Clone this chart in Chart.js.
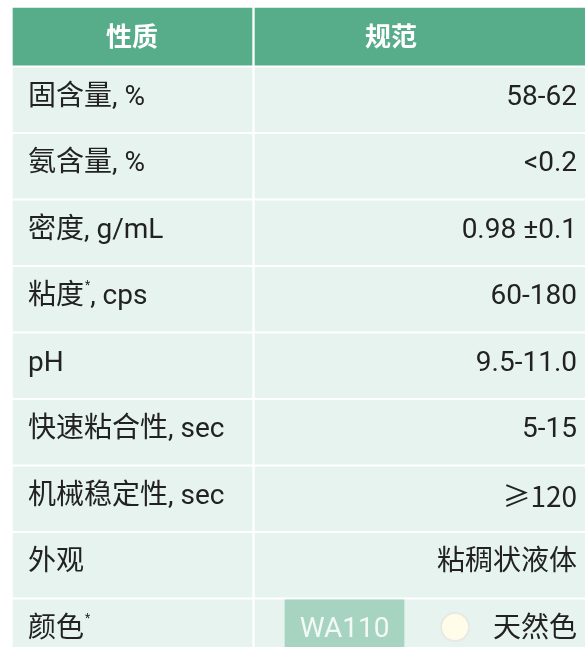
<!DOCTYPE html>
<html>
<head>
<meta charset="utf-8">
<script src="https://cdn.jsdelivr.net/npm/chart.js@4.4.1/dist/chart.umd.min.js"></script>
<style>
  html, body { margin: 0; padding: 0; background: #fff; overflow: hidden; }
  canvas { display: block; }
</style>
</head>
<body>
<canvas id="tabla" width="585" height="647"></canvas>
<script>
// datos de la tabla
const encabezados = ['性质', '规范'];
const propiedades = ['固含量', '氨含量', '密度', '粘度', 'pH', '快速粘合性', '机械稳定性', '外观', '颜色'];
const unidades = ['%', '%', 'g/mL', 'cps', '', 'sec', 'sec', '', ''];
const conAsterisco = [false, false, false, true, false, false, false, false, true];
const especificaciones = ['58-62', '<0.2', '0.98 ±0.1', '60-180', '9.5-11.0', '5-15', '≥120', '粘稠状液体', '天然色'];
const codigoColor = 'WA110';

// layout (unidades de la escala x y filas de la escala y)
const COL_IZQ = [13, 252];
const COL_DER = [255, 585];
const CELDA_CODIGO = [285, 404];
const FILA_ENCABEZADO = 0.05;
const CENTRO_ENCABEZADO = [132, 391];
const TEXTO_IZQ = 28;
const TEXTO_DER = 577;
const CIRCULO_X = 455;

const verde = '#57ad8a';
const fondoFila = '#e6f3ee';
const fondoCodigo = '#a6d4c0';

const filas = propiedades.map((p, i) => i + 1);

const celdasEncabezado = [
    { x: COL_IZQ, y: FILA_ENCABEZADO },
    { x: COL_DER, y: FILA_ENCABEZADO }
];
const celdasFilas = [];
filas.forEach(f => {
    celdasFilas.push({ x: COL_IZQ, y: f });
    celdasFilas.push({ x: COL_DER, y: f });
});
const filaColor = filas[filas.length - 1];

const FUENTE = 'Roboto, "Noto Sans CJK SC", sans-serif';
const FUENTE_CJK = '"Noto Sans CJK SC", Roboto, sans-serif';
const TAM = 28;

const textoTabla = {
    id: 'textoTabla',
    afterDatasetsDraw(chart) {
        const { ctx, scales: { x, y } } = chart;
        ctx.save();
        ctx.textBaseline = 'middle';

        // encabezado
        ctx.fillStyle = '#ffffff';
        ctx.font = 'bold 26px ' + FUENTE_CJK;
        ctx.textAlign = 'center';
        encabezados.forEach((h, i) => {
            ctx.fillText(h, x.getPixelForValue(CENTRO_ENCABEZADO[i]), y.getPixelForValue(FILA_ENCABEZADO));
        });

        // filas
        filas.forEach((f, i) => {
            const py = y.getPixelForValue(f) - 2;
            let px = x.getPixelForValue(TEXTO_IZQ);
            ctx.fillStyle = '#222222';
            ctx.textAlign = 'left';
            ctx.font = TAM + 'px ' + FUENTE;
            ctx.fillText(propiedades[i], px, py);
            px += ctx.measureText(propiedades[i]).width;
            if (conAsterisco[i]) {
                ctx.font = '12px ' + FUENTE;
                ctx.fillText('*', px + 1, py - 11);
                px += ctx.measureText('*').width + 1;
                ctx.font = TAM + 'px ' + FUENTE;
            }
            if (unidades[i]) {
                ctx.fillText(', ' + unidades[i], px, py);
            }

            ctx.textAlign = 'right';
            ctx.font = TAM + 'px ' + (especificaciones[i].includes('≥') ? FUENTE_CJK : FUENTE);
            ctx.fillText(especificaciones[i], x.getPixelForValue(TEXTO_DER), py);
        });

        // código de color
        ctx.fillStyle = '#f3faf6';
        ctx.textAlign = 'center';
        ctx.font = TAM + 'px ' + FUENTE;
        ctx.fillText(codigoColor, x.getPixelForValue((CELDA_CODIGO[0] + CELDA_CODIGO[1]) / 2), y.getPixelForValue(filaColor) - 2);

        ctx.restore();
    }
};

new Chart(document.getElementById('tabla').getContext('2d'), {
    type: 'bar',
    data: {
        datasets: [
            {
                type: 'scatter',
                label: 'muestra',
                data: [{ x: CIRCULO_X, y: filaColor - 0.07 }],
                pointRadius: 14,
                pointHoverRadius: 14,
                pointBackgroundColor: '#fffdea',
                pointBorderColor: '#e8e9e6',
                pointBorderWidth: 2,
                order: 0
            },
            {
                label: 'codigo',
                indexAxis: 'y',
                data: [{ x: CELDA_CODIGO, y: filaColor }],
                backgroundColor: fondoCodigo,
                barThickness: 64,
                grouped: false,
                borderWidth: 0,
                order: 1
            },
            {
                label: 'filas',
                indexAxis: 'y',
                data: celdasFilas,
                backgroundColor: fondoFila,
                barThickness: 64,
                grouped: false,
                borderWidth: 0,
                order: 2
            },
            {
                label: 'encabezado',
                indexAxis: 'y',
                data: celdasEncabezado,
                backgroundColor: verde,
                barThickness: 57,
                grouped: false,
                borderWidth: 0,
                order: 3
            }
        ]
    },
    options: {
        responsive: false,
        animation: false,
        layout: { padding: 0, autoPadding: false },
        scales: {
            x: { type: 'linear', min: 0, max: 585, offset: false, display: false },
            y: { type: 'linear', reverse: true, min: -0.5, max: -0.5 + 647 / 66.5, offset: false, display: false }
        },
        plugins: {
            legend: { display: false },
            tooltip: { enabled: false }
        }
    },
    plugins: [textoTabla]
});
</script>
</body>
</html>
